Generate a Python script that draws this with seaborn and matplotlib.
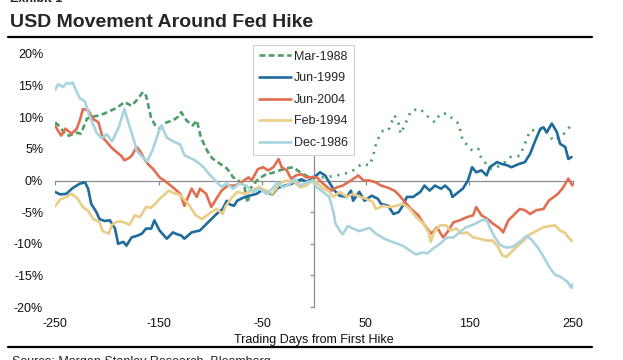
import matplotlib
matplotlib.use("Agg")
import matplotlib.pyplot as plt
import matplotlib.ticker as mticker
from matplotlib.lines import Line2D
import seaborn as sns

# USD move (%) vs trading days from the first Fed hike
mar88_days_pre = [-250, -245, -240, -236, -230, -225, -219, -213, -207, -202, -197, -190,
                  -183, -176, -170, -165, -162, -157, -153, -149, -145, -142, -136, -131,
                  -128, -123, -117, -113, -109, -103, -98, -91, -84, -81, -78, -74, -70,
                  -67, -64, -61, -55, -50, -46, -40, -33, -27, -20, -15, -10, -4, 0]
mar88_vals_pre = [9.2, 8.5, 7.2, 7.1, 7.6, 7.4, 9.8, 10.1, 10.3, 10.6, 11.0, 11.5,
                  12.4, 11.8, 12.9, 14.0, 13.4, 9.8, 8.7, 8.2, 8.9, 9.2, 9.5, 10.1,
                  10.8, 9.5, 8.7, 9.5, 6.8, 4.7, 3.5, 2.7, 1.9, 1.3, 0.5, 0.2, -0.5,
                  -1.0, -3.5, -1.2, 0.0, 0.6, 1.0, 1.2, 1.6, 1.9, 2.1, 1.5, 1.0, 0.5, 0.6]
mar88_days_post = [0, 9, 15, 22, 28, 35, 41, 46, 51, 54, 57, 61, 67, 72, 78, 82, 84, 90,
                   94, 99, 103, 107, 111, 117, 122, 128, 134, 140, 144, 149, 153, 159,
                   162, 167, 172, 176, 180, 186, 190, 195, 199, 204, 209, 216, 223, 228,
                   231, 235, 238, 243, 246, 250]
mar88_vals_post = [0.6, 0.5, 0.6, 0.8, 1.0, 1.3, 1.9, 2.6, 2.5, 2.4, 3.7, 6.3, 7.9, 7.9,
                   10.3, 9.0, 7.4, 9.5, 11.0, 11.2, 11.3, 10.6, 10.0, 9.2, 10.5, 10.6,
                   9.8, 9.0, 6.3, 5.5, 4.7, 5.0, 3.4, 2.6, 1.8, 2.0, 2.4, 3.0, 3.7, 3.8,
                   3.9, 5.8, 7.9, 8.0, 8.2, 7.2, 6.3, 6.6, 6.8, 7.6, 8.2, 9.2]

jun99_days = [-250, -245, -239, -233, -226, -221, -218, -215, -210, -207, -202, -197,
              -192, -189, -184, -181, -176, -170, -166, -162, -157, -154, -149, -142,
              -136, -132, -128, -125, -118, -110, -102, -94, -88, -84, -81, -77, -74,
              -68, -62, -55, -50, -46, -40, -35, -30, -23, -18, -12, -7, -1, 6, 11, 15,
              20, 25, 32, 36, 38, 44, 49, 56, 62, 65, 72, 77, 82, 86, 90, 96, 103, 107,
              112, 117, 123, 127, 132, 134, 140, 144, 149, 153, 157, 162, 167, 170, 177,
              182, 187, 191, 198, 204, 209, 214, 219, 222, 225, 230, 233, 235, 238, 243,
              246, 249]
jun99_vals = [-1.8, -2.2, -2.1, -1.2, -0.5, -0.3, -1.3, -3.7, -5.0, -6.1, -6.4, -6.3,
              -7.6, -10.0, -9.7, -10.3, -9.0, -8.7, -8.4, -7.6, -7.6, -6.3, -7.9, -9.2,
              -8.2, -8.5, -8.7, -9.2, -8.2, -7.9, -6.6, -5.3, -4.5, -3.2, -3.8, -4.0,
              -3.2, -2.7, -2.4, -2.1, -1.5, -1.8, -2.2, -1.2, -0.9, -0.6, -0.3, 0.2,
              -0.2, 0.3, 1.3, 0.8, -0.3, -1.6, -2.4, -2.6, -1.6, -3.2, -1.8, -3.2, -2.4,
              -2.9, -3.7, -4.0, -5.3, -5.0, -4.0, -2.6, -2.6, -1.8, -0.8, -1.6, -0.8,
              -1.3, -0.8, -1.6, -2.6, -1.8, -1.3, 0.0, 2.1, 1.3, 1.6, 0.8, 2.1, 2.9, 2.6,
              2.4, 2.1, 2.6, 2.9, 4.2, 6.3, 8.2, 8.4, 7.6, 9.0, 8.2, 7.6, 5.8, 5.3, 3.4,
              3.7]

jun04_days = [-250, -246, -244, -240, -234, -229, -226, -223, -218, -213, -208, -204,
              -200, -196, -192, -186, -183, -179, -176, -171, -168, -163, -159, -155,
              -149, -142, -136, -129, -125, -118, -113, -110, -104, -99, -93, -89, -83,
              -76, -70, -63, -60, -54, -49, -44, -39, -34, -31, -26, -22, -17, -12, -7,
              -1, 3, 9, 17, 22, 28, 36, 43, 48, 54, 60, 65, 71, 78, 83, 88, 94, 101, 106,
              111, 114, 119, 125, 129, 135, 141, 148, 154, 157, 162, 168, 173, 180, 183,
              188, 193, 199, 204, 209, 215, 222, 227, 232, 236, 241, 246, 250]
jun04_vals = [8.7, 7.6, 7.1, 8.2, 7.4, 8.2, 9.5, 11.3, 11.1, 9.7, 9.2, 6.8, 6.1, 5.3,
              4.7, 3.9, 3.2, 3.5, 3.9, 5.3, 4.7, 3.2, 2.4, 1.8, 0.5, -0.3, -1.1, -2.1,
              -4.0, -1.3, -2.6, -1.3, -2.1, -4.2, -2.6, -1.6, -0.8, -0.8, -0.3, 0.5, 0.0,
              1.8, 2.1, 1.6, 2.1, 3.4, 2.1, 1.6, 0.3, 0.8, 1.0, 0.5, 0.5, 0.5, -0.5, -1.6,
              -1.1, -0.8, 0.0, 0.8, 0.0, 0.0, -0.3, -0.8, -1.1, -1.6, -2.4, -3.4, -4.5,
              -5.5, -6.8, -7.9, -8.4, -7.4, -9.0, -8.2, -6.6, -6.3, -5.8, -5.5, -4.2,
              -5.5, -6.1, -6.8, -7.6, -8.2, -6.3, -5.5, -4.5, -4.7, -5.3, -4.7, -4.5,
              -3.2, -2.6, -2.1, -1.1, 0.3, -0.8]

feb94_days = [-250, -245, -239, -234, -228, -223, -218, -213, -207, -204, -198, -195,
              -190, -185, -178, -173, -168, -162, -157, -152, -149, -144, -140, -135,
              -130, -124, -120, -114, -108, -104, -99, -94, -88, -85, -80, -74, -66, -60,
              -53, -46, -40, -33, -27, -18, -13, -7, -1, 3, 9, 14, 19, 25, 32, 38, 45, 51,
              57, 60, 67, 73, 80, 86, 93, 99, 106, 111, 113, 117, 122, 128, 132, 138, 143,
              148, 154, 160, 167, 173, 178, 182, 186, 191, 196, 203, 209, 216, 222, 228,
              233, 238, 243, 247, 250]
feb94_vals = [-4.1, -3.0, -2.6, -2.1, -2.9, -4.2, -4.8, -6.1, -6.6, -8.0, -8.4, -7.0,
              -6.5, -6.5, -7.0, -5.5, -5.8, -4.2, -4.3, -3.5, -2.9, -2.2, -1.6, -2.0,
              -2.2, -3.2, -4.0, -5.5, -6.1, -5.6, -5.0, -4.5, -5.3, -4.0, -2.9, -1.8,
              -2.1, -1.6, -1.0, -1.6, -2.1, -0.5, 0.0, -0.3, -1.1, -0.8, 0.0, -0.3, -1.3,
              -1.6, -2.6, -1.8, -2.6, -2.1, -2.6, -2.9, -3.4, -4.5, -4.0, -4.2, -4.0,
              -3.7, -4.5, -5.8, -6.8, -8.2, -9.7, -7.9, -7.1, -7.1, -7.9, -7.6, -8.4,
              -8.2, -9.0, -9.2, -9.5, -9.5, -10.5, -11.8, -12.1, -11.3, -10.5, -9.5,
              -8.5, -7.9, -7.4, -7.2, -7.1, -7.9, -8.3, -9.2, -9.6]

dec86_days = [-250, -247, -242, -239, -235, -233, -229, -226, -221, -218, -213, -210,
              -205, -200, -195, -193, -188, -183, -181, -178, -174, -171, -166, -161,
              -156, -150, -147, -142, -136, -129, -125, -120, -116, -110, -106, -101, -94,
              -89, -84, -78, -72, -65, -59, -52, -46, -39, -35, -30, -23, -18, -13, -7,
              -1, 3, 9, 15, 19, 21, 25, 28, 33, 38, 44, 54, 60, 68, 74, 86, 93, 99, 104,
              110, 115, 122, 129, 135, 141, 147, 154, 162, 167, 170, 175, 180, 186, 192,
              199, 206, 210, 216, 220, 228, 233, 238, 245, 249, 250]
dec86_vals = [14.3, 15.2, 14.8, 15.4, 15.3, 15.5, 14.0, 13.0, 12.5, 10.8, 8.8, 7.6, 6.7,
              7.3, 6.2, 6.8, 8.6, 11.3, 10.2, 8.6, 6.5, 4.7, 3.8, 3.0, 4.7, 7.6, 8.7, 6.8,
              6.2, 5.7, 4.0, 3.6, 3.3, 2.6, 2.0, 1.0, -0.2, -1.0, -0.5, -1.3, -0.5, -0.8,
              -1.8, -1.3, -2.1, -1.1, -0.3, -1.1, -0.5, 0.3, -0.8, -0.3, 0.0, -1.1, -1.8,
              -2.6, -5.0, -6.8, -7.9, -8.5, -7.2, -7.6, -8.0, -7.5, -8.4, -9.2, -9.6,
              -10.3, -11.1, -11.7, -11.4, -11.5, -10.8, -10.0, -9.0, -9.0, -8.2, -7.4,
              -7.0, -6.3, -6.2, -7.4, -9.0, -10.2, -10.6, -10.5, -9.7, -8.7, -9.3, -10.5,
              -11.5, -13.8, -14.9, -15.2, -16.0, -17.0, -16.4]

green = "#4c9e66"
blue = "#1e6b9c"
orange = "#e06f52"
yellow = "#eacd86"
lightblue = "#a8d4de"

sns.set_style("white")
plt.rcParams["font.family"] = ["Liberation Sans", "DejaVu Sans"]
plt.rcParams["axes.unicode_minus"] = False

fig = plt.figure(figsize=(6.23, 3.6), dpi=100)
ax = fig.add_axes([55 / 623, 1 - 307 / 360, 517.5 / 623, 253 / 360])

lw = 1.9
sns.lineplot(x=mar88_days_pre, y=mar88_vals_pre, ax=ax, color=green, lw=lw,
             linestyle=(0, (2.2, 1.3)), label="Mar-1988", estimator=None)
sns.lineplot(x=mar88_days_post, y=mar88_vals_post, ax=ax, color=green, lw=lw,
             linestyle=(0, (0.8, 2.2)), estimator=None)
sns.lineplot(x=jun99_days, y=jun99_vals, ax=ax, color=blue, lw=lw, label="Jun-1999", estimator=None)
sns.lineplot(x=jun04_days, y=jun04_vals, ax=ax, color=orange, lw=lw, label="Jun-2004", estimator=None)
sns.lineplot(x=feb94_days, y=feb94_vals, ax=ax, color=yellow, lw=lw, label="Feb-1994", estimator=None)
sns.lineplot(x=dec86_days, y=dec86_vals, ax=ax, color=lightblue, lw=lw, label="Dec-1986", estimator=None)

ax.set_xlim(-250, 250)
ax.set_ylim(-20, 20)
xt = [-250, -150, -50, 50, 150, 250]
yt = [-20, -15, -10, -5, 0, 5, 10, 15, 20]

# axis lines cross at zero, ticks sit on them
for s in ["top", "right"]:
    ax.spines[s].set_visible(False)
for s in ["left", "bottom"]:
    ax.spines[s].set_position(("data", 0))
    ax.spines[s].set_color("#8c8c8c")
    ax.spines[s].set_linewidth(0.9)
    ax.spines[s].set_zorder(0.5)
ax.set_xticks(xt)
ax.set_yticks(yt)
ax.tick_params(direction="out", length=3, width=0.9, color="#8c8c8c",
               labelbottom=False, labelleft=False, bottom=True, left=True)
ax.set_xlabel("")
ax.set_ylabel("")

# labels stay on the outer edges
secy = ax.secondary_yaxis("left")
secy.set_yticks(yt)
secy.yaxis.set_major_formatter(mticker.PercentFormatter(decimals=0))
secy.tick_params(length=0, pad=8.5, labelsize=9, labelcolor="#111111")
secy.spines["left"].set_visible(False)

secx = ax.secondary_xaxis("bottom")
secx.set_xticks(xt)
secx.tick_params(length=0, pad=8, labelsize=9, labelcolor="#111111")
secx.spines["bottom"].set_visible(False)
secx.set_xlabel("Trading Days from First Hike", fontsize=9, labelpad=3, color="#111111")

handles, labels = ax.get_legend_handles_labels()
leg = ax.legend(handles, labels, loc="upper left", bbox_to_anchor=(253 / 623, 1 - 45 / 360),
                bbox_transform=fig.transFigure, borderaxespad=0, fontsize=9,
                handlelength=2.6, handletextpad=0.25, labelspacing=0.77, borderpad=0.45,
                fancybox=False, framealpha=1, edgecolor="#cfcfcf")
leg.get_frame().set_linewidth(0.8)

# title block and rules
fig.text(10 / 623, 1 - 2 / 360, "Exhibit 1", fontsize=9, fontweight="bold", va="baseline")
fig.text(10 / 623, 1 - 27 / 360, "USD Movement Around Fed Hike", fontsize=14,
         fontweight="bold", va="baseline")
fig.add_artist(Line2D([8 / 623, 592 / 623], [1 - 36.5 / 360] * 2, color="black", lw=1.6))
fig.add_artist(Line2D([8 / 623, 592 / 623], [1 - 346.5 / 360] * 2, color="black", lw=1.6))
fig.text(12 / 623, 1 - 356 / 360, "Source: Morgan Stanley Research, Bloomberg",
         fontsize=9, va="top")

fig.savefig("out.png", dpi=100)
